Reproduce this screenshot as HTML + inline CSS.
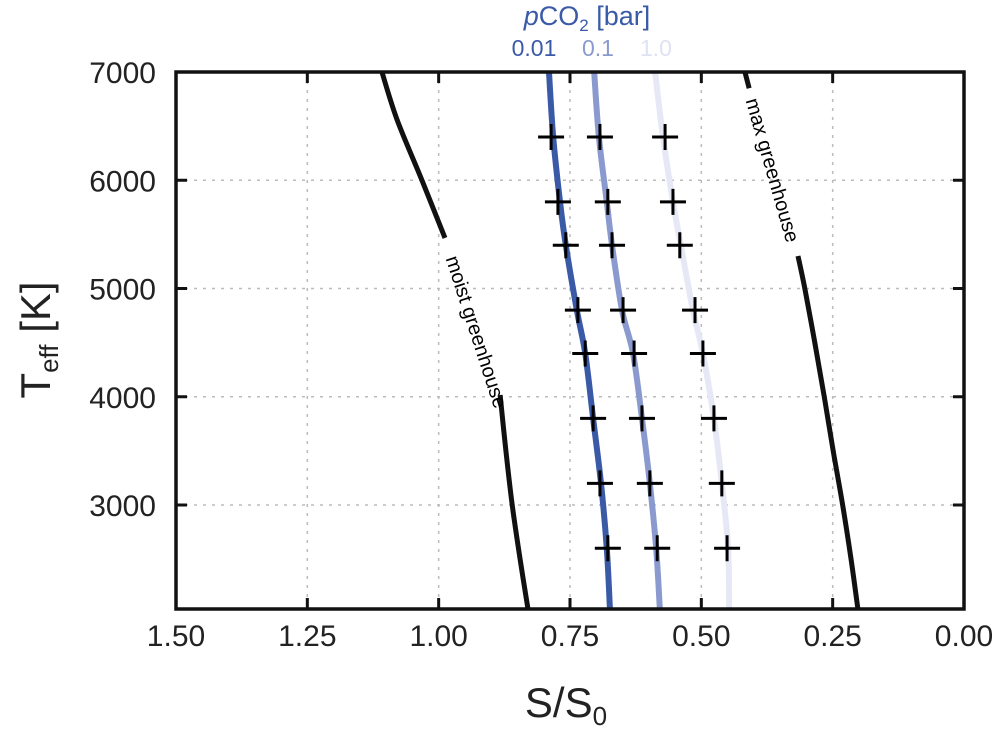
<!DOCTYPE html>
<html><head><meta charset="utf-8"><style>body{margin:0;background:#fff}svg{display:block;font-family:"Liberation Sans",sans-serif}</style></head>
<body>
<svg id="chart" width="1000" height="734">
<g id="grid"></g>
<g id="series"></g>
<g id="axes"></g>
</svg>
<script>
const xTicks=[1.5,1.25,1.0,0.75,0.5,0.25,0.0];
const xTickLabels=["1.50","1.25","1.00","0.75","0.50","0.25","0.00"];
const yTicks=[3000,4000,5000,6000,7000];
const yTickLabels=["3000","4000","5000","6000","7000"];
const curveT=[7000,6400,5800,5400,4800,4400,3800,3200,2600,2040];
const co2Low=[0.790,0.782,0.769,0.758,0.737,0.721,0.706,0.691,0.680,0.674];
const co2Mid=[0.704,0.695,0.680,0.670,0.651,0.630,0.613,0.598,0.586,0.579];
const co2High=[0.588,0.573,0.554,0.539,0.516,0.497,0.476,0.461,0.449,0.447];
const crossT=[6400,5800,5400,4800,4400,3800,3200,2600];
const crossLow=[0.786,0.773,0.758,0.735,0.721,0.706,0.693,0.678];
const crossMid=[0.693,0.678,0.670,0.649,0.628,0.613,0.598,0.584];
const crossHigh=[0.569,0.554,0.541,0.512,0.497,0.476,0.461,0.451];
const moistUpperT=[7000,6557,6002,5467];
const moistUpperS=[1.108,1.079,1.032,0.988];
const moistLowerT=[4016,3500,3000,2500,2040];
const moistLowerS=[0.883,0.872,0.860,0.845,0.830];
const maxUpperT=[7000,6850];
const maxUpperS=[0.417,0.409];
const maxLowerT=[5300,5000,4500,4000,3500,3000,2500,2040];
const maxLowerS=[0.316,0.303,0.284,0.266,0.249,0.231,0.215,0.202];

const L=176,R=964,T=72,B=609;
const X=s=>L+(1.5-s)*(R-L)/1.5;
const Y=t=>T+(7000-t)*0.10825;
const NS="http://www.w3.org/2000/svg";
function mk(tag,attrs,parent){const e=document.createElementNS(NS,tag);for(const k in attrs)e.setAttribute(k,attrs[k]);parent.appendChild(e);return e;}
const grid=document.getElementById('grid'),ser=document.getElementById('series'),ax=document.getElementById('axes');
xTicks.forEach(v=>{if(v>0&&v<1.5){const g=mk('line',{x1:X(v),x2:X(v),y1:T,y2:B,stroke:'#bbb','stroke-width':1.5,'stroke-dasharray':'3,6'},grid);

}});
yTicks.forEach(v=>{if(v<7000){const g=mk('line',{x1:L,x2:R,y1:Y(v),y2:Y(v),stroke:'#bbb','stroke-width':1.5,'stroke-dasharray':'3,6'},grid);

}});
function curve(ts,ss,color,w,name){
 const pts=ts.map((t,i)=>[X(ss[i]),Y(t)]);
 let d='M'+pts[0][0]+','+pts[0][1];
 for(let i=0;i<pts.length-1;i++){const p0=pts[i-1]||pts[i],p1=pts[i],p2=pts[i+1],p3=pts[i+2]||p2;
  d+=' C'+(p1[0]+(p2[0]-p0[0])/6)+','+(p1[1]+(p2[1]-p0[1])/6)+' '+(p2[0]-(p3[0]-p1[0])/6)+','+(p2[1]-(p3[1]-p1[1])/6)+' '+p2[0]+','+p2[1];}
 const p=mk('path',{d:d,fill:'none',stroke:color,'stroke-width':w},ser);
 
 
}
curve(curveT,co2High,'#e6e8f5',6,'pco2-1.0-line');
curve(curveT,co2Mid,'#8a9acf',6,'pco2-0.1-line');
curve(curveT,co2Low,'#3a5aa8',6,'pco2-0.01-line');
curve(moistUpperT,moistUpperS,'#111',5,'moist-greenhouse-line-upper');
curve(moistLowerT,moistLowerS,'#111',5,'moist-greenhouse-line-lower');
curve(maxUpperT,maxUpperS,'#111',5,'max-greenhouse-line-upper');
curve(maxLowerT,maxLowerS,'#111',5,'max-greenhouse-line-lower');
[crossLow,crossMid,crossHigh].forEach((arr,k)=>{crossT.forEach((t,i)=>{
 const cx=X(arr[i]),cy=Y(t);
 const p=mk('path',{d:`M${cx-13},${cy}H${cx+13}M${cx},${cy-13}V${cy+13}`,stroke:'#000','stroke-width':3},ser);
 
 
});});
let lab=mk('text',{x:0,y:0,'font-size':20,'text-anchor':'middle',transform:`translate(470,334) rotate(72)`},ser);
lab.textContent='moist greenhouse';


lab=mk('text',{x:0,y:0,'font-size':20,'text-anchor':'middle',transform:`translate(766,172) rotate(74)`},ser);
lab.textContent='max greenhouse';


xTicks.forEach((v,i)=>{
 const t=mk('path',{d:`M${X(v)},${B}v-11M${X(v)},${T}v11`,stroke:'#111','stroke-width':3},ax);
 
 
 const l=mk('text',{x:X(v),y:646,'font-size':30,'text-anchor':'middle',fill:'#222'},ax);
 l.textContent=xTickLabels[i];
 
 
});
yTicks.forEach((v,i)=>{
 const t=mk('path',{d:`M${L},${Y(v)}h11M${R},${Y(v)}h-11`,stroke:'#111','stroke-width':3},ax);
 
 
 const l=mk('text',{x:156,y:Y(v)+11,'font-size':30,'text-anchor':'end',fill:'#222'},ax);
 l.textContent=yTickLabels[i];
 
 
});
const fr=mk('rect',{x:L,y:T,width:R-L,height:B-T,fill:'none',stroke:'#111','stroke-width':3.5},ax);


</script>
<svg width="1000" height="734" style="position:absolute;left:0;top:0">
<text x="566" y="717" font-size="42" text-anchor="middle" fill="#222">S/S<tspan font-size="26" dy="8">0</tspan></text>
<text transform="translate(50,340) rotate(-90)" font-size="42" text-anchor="middle" fill="#222">T<tspan font-size="26" dy="8">eff</tspan><tspan dy="-8"> [K]</tspan></text>
<text x="587" y="25" font-size="27" text-anchor="middle" fill="#3a5aa8"><tspan font-style="italic">p</tspan>CO<tspan font-size="17" dy="6">2</tspan><tspan dy="-6"> [bar]</tspan></text>
<text x="534" y="56" font-size="23" text-anchor="middle" fill="#3a5aa8">0.01</text>
<text x="598" y="56" font-size="23" text-anchor="middle" fill="#8a9acf">0.1</text>
<text x="656" y="56" font-size="23" text-anchor="middle" fill="#dfe2f2">1.0</text>
</svg>
</body></html>
